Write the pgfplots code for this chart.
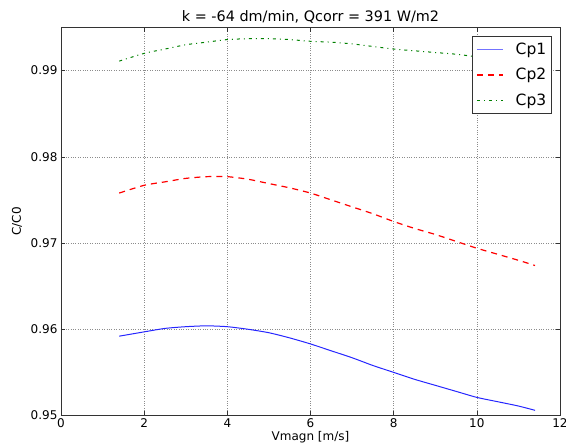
\documentclass[border=0pt]{standalone}
\usepackage{fontspec}
\setmainfont{DejaVu Sans}
\usepackage{pgfplots}
\pgfplotsset{compat=1.18}
\definecolor{mplgreen}{rgb}{0,0.5,0}
\definecolor{mplblue}{rgb}{0.15,0.15,1}
\definecolor{legblue}{rgb}{0.45,0.45,1}
\begin{document}
\begin{tikzpicture}
\begin{axis}[
  at={(0pt,0pt)}, anchor=south west,
  scale only axis,
  width=499pt, height=388pt,
  xmin=0, xmax=12, ymin=0.95, ymax=0.995,
  xtick={0,2,4,6,8,10,12},
  ytick={0.95,0.96,0.97,0.98,0.99},
  scaled y ticks=false,
  yticklabel style={/pgf/number format/fixed,/pgf/number format/precision=2,/pgf/number format/fixed zerofill},
  /pgf/number format/assume math mode=true,
  ticklabel style={font=\fontsize{12}{14}\selectfont},
  tick align=inside,
  major tick length=4pt,
  tick style={black!80, line width=0.6pt},
  grid=major,
  grid style={dotted, black!45, line width=0.6pt},
  axis line style={black!80, line width=0.9pt},
  every axis title shift=0pt,
  title={k = -64 dm/min, Qcorr = 391 W/m2},
  title style={font=\fontsize{14.4}{17}\selectfont, at={(axis description cs:0.5,1.0145)}, anchor=base},
  xlabel={Vmagn [m/s]},
  xlabel style={font=\fontsize{12}{14}\selectfont, at={(axis description cs:0.5,-0.057)}, anchor=center},
  ylabel={C/C0},
  ylabel style={font=\fontsize{12}{14}\selectfont, at={(axis description cs:-0.088,0.5)}, anchor=center},
  legend cell align=left,
  legend image code/.code={\draw[#1] (0pt,0pt) -- (26pt,0pt);},
  legend style={at={(axis description cs:0.984,0.978)}, anchor=north east,
    font=\fontsize{15.5}{18}\selectfont, fill=white,
    /tikz/row sep=8.5pt, /tikz/column sep=10pt, inner xsep=3.5pt, inner ysep=4.6pt,
    nodes={inner ysep=2pt}},
  every axis legend/.append style={draw=black!80, line width=0.6pt},
]
\addlegendimage{legblue, line width=1.6pt, solid}
\addlegendentry{Cp1}
\addlegendimage{red, line width=1.2pt, dash pattern=on 6pt off 5pt}
\addlegendentry{Cp2}
\addlegendimage{mplgreen, line width=1pt, dash pattern=on 3pt off 4pt on 1pt off 4pt}
\addlegendentry{Cp3}
\addplot[forget plot, mplblue, line width=1pt, smooth, tension=0.4] coordinates {
(1.4,0.9592) (2,0.9597) (2.5,0.9601) (3,0.9603) (3.5,0.9604) (4,0.9603) (4.5,0.9600)
(5,0.9596) (5.5,0.9590) (6,0.9583) (6.5,0.9575) (7,0.9567) (7.5,0.9558) (8,0.9550)
(8.5,0.9542) (9,0.9535) (9.5,0.9528) (10,0.9521) (10.5,0.9516) (11,0.9511) (11.4,0.9506)
};
\addplot[forget plot, red, line width=1.2pt, dash pattern=on 6pt off 5pt, smooth, tension=0.4] coordinates {
(1.4,0.9758) (2,0.9767) (2.5,0.9771) (3,0.9775) (3.5,0.9777) (4,0.9777) (4.5,0.9774)
(5,0.9769) (5.5,0.9764) (6,0.9758) (6.5,0.9750) (7,0.9742) (7.5,0.9734) (8,0.9725)
(8.5,0.9717) (9,0.9710) (9.5,0.9702) (10,0.9694) (10.5,0.9687) (11,0.9680) (11.4,0.9674)
};
\addplot[forget plot, mplgreen, line width=1pt, dash pattern=on 3pt off 4pt on 1pt off 4pt, smooth, tension=0.4] coordinates {
(1.4,0.9911) (2,0.9920) (2.5,0.9925) (3,0.9930) (3.5,0.9933) (4,0.9936) (4.5,0.9937)
(5,0.9937) (5.5,0.9936) (6,0.9934) (6.5,0.9933) (7,0.9931) (7.5,0.9928) (8,0.9925)
(8.5,0.9923) (9,0.9921) (9.5,0.9919) (10,0.9916) (10.5,0.9913) (11,0.9910) (11.4,0.9908)
};
\end{axis}
\pgfresetboundingbox
\useasboundingbox (-61pt,-32.3pt) rectangle (505pt,415.5pt);
\end{tikzpicture}
\end{document}
